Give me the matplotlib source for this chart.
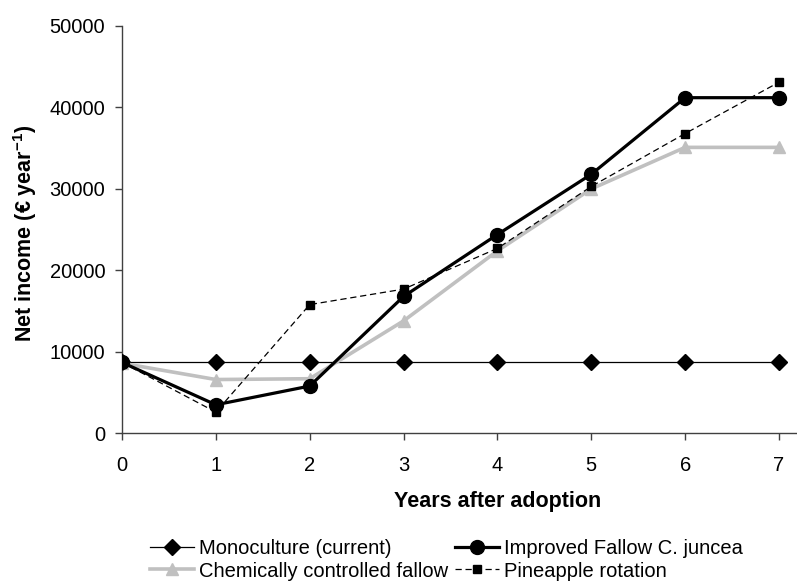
import matplotlib
matplotlib.use("Agg")
import matplotlib.pyplot as plt

years = [0, 1, 2, 3, 4, 5, 6, 7]
monoculture = [8700, 8700, 8700, 8700, 8700, 8700, 8700, 8700]
improved_fallow = [8700, 3500, 5800, 16800, 24400, 31800, 41200, 41200]
chem_fallow = [8600, 6600, 6700, 13800, 22400, 30000, 35100, 35100]
pineapple = [8700, 2600, 15800, 17700, 22700, 30300, 36800, 43100]
yticks = [0, 10000, 20000, 30000, 40000, 50000]

plt.rcParams['font.family'] = ['Liberation Sans', 'DejaVu Sans']
plt.rcParams['mathtext.fontset'] = 'custom'
plt.rcParams['mathtext.rm'] = 'Liberation Sans'
plt.rcParams['mathtext.bf'] = 'Liberation Sans:bold'

W, H = 797, 588
fig = plt.figure(figsize=(W / 100, H / 100), dpi=100)
ax_l, ax_r, ax_b, ax_t = 122, 797, 433.3, 26
ax = fig.add_axes([ax_l / W, 1 - ax_b / H, (ax_r - ax_l) / W, (ax_b - ax_t) / H])

h_mono, = ax.plot(years, monoculture, color='black', lw=0.9, marker='D',
                  markersize=8, label='Monoculture (current)', zorder=3)
h_chem, = ax.plot(years, chem_fallow, color='#c0c0c0', lw=2.6, marker='^',
                  markersize=9, label='Chemically controlled fallow', zorder=4)
h_imp, = ax.plot(years, improved_fallow, color='black', lw=2.3, marker='o',
                 markersize=10, label='Improved Fallow C. juncea', zorder=5)
h_pine, = ax.plot(years, pineapple, color='black', lw=0.9, ls=(0, (5, 3)),
                  marker='s', markersize=6, label='Pineapple rotation', zorder=6)

ax.set_xlim(0, (ax_r - ax_l) / ((779 - ax_l) / 7))
ax.set_ylim(0, 50000)
ax.set_xticks(years)
ax.set_yticks(yticks)
ax.set_yticklabels([str(v) for v in yticks])
for s in ['top', 'right']:
    ax.spines[s].set_visible(False)
for s in ['left', 'bottom']:
    ax.spines[s].set_color('#404040')
    ax.spines[s].set_linewidth(1.0)
ax.tick_params(axis='both', direction='out', length=5, width=1, color='#404040',
               labelsize=14.5)
ax.tick_params(axis='x', pad=11)
ax.tick_params(axis='y', pad=7)

ax.set_xlabel('Years after adoption', fontsize=15.5, fontweight='bold')
ax.xaxis.set_label_coords((498 - ax_l) / (ax_r - ax_l), (ax_b - 501) / (ax_b - ax_t))
ax.xaxis.label.set_va('center')
ax.set_ylabel('Net income (€ year$^{\\mathbf{-1}}$)', fontsize=15.5, fontweight='bold')
ax.yaxis.set_label_coords((25 - ax_l) / (ax_r - ax_l), (ax_b - 233) / (ax_b - ax_t))
ax.yaxis.label.set_va('center')

fig.legend(handles=[h_mono, h_chem, h_imp, h_pine], ncol=2, loc='center left',
           bbox_to_anchor=(150 / W, 1 - 560 / H), frameon=False, fontsize=14.5,
           handlelength=2.2, handletextpad=0.25, columnspacing=0.3,
           labelspacing=0.15, borderpad=0, borderaxespad=0)

fig.savefig('out.png', dpi=100)
